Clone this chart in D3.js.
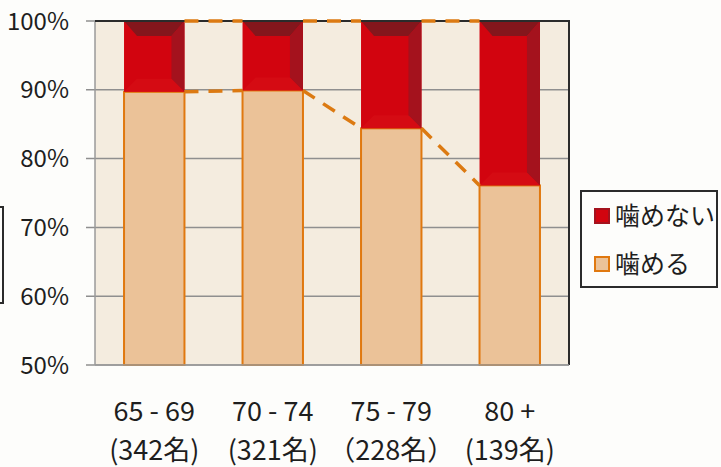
<!DOCTYPE html>
<html>
<head>
<meta charset="utf-8">
<script src="https://cdn.jsdelivr.net/npm/d3@7"></script>
<style>
    html, body { margin: 0; padding: 0; background: #fdfdfb; }
    svg { display: block; }
    text { font-family: "Noto Sans CJK JP", "Noto Sans", sans-serif; fill: #1e1e1e; }
</style>
</head>
<body>
<svg id="chart" width="721" height="467"></svg>
<script>
"use strict";

// age groups and respondent counts
const categories = ["65 - 69", "70 - 74", "75 - 79", "80 +"];
const counts = ["(342名)", "(321名)", "（228名）", "(139名)"];

// percent of respondents (stacked, bottom to top)
const canChew = [89.7, 89.9, 84.4, 76.1];     // 噛める
const cannotChew = [10.3, 10.1, 15.6, 23.9];  // 噛めない

const yTicks = [50, 60, 70, 80, 90, 100];
const legendLabels = ["噛めない", "噛める"];

const svg = d3.select("#chart");

const plot = { left: 95, right: 569, top: 21, bottom: 365 };

const x = d3.scaleBand()
    .domain(categories)
    .range([plot.left, plot.right])
    .paddingInner(0.49)
    .paddingOuter(0.245);

const y = d3.scaleLinear()
    .domain([50, 100])
    .range([plot.bottom, plot.top]);

const rows = categories.map((c, i) => ({
    cat: c,
    count: counts[i],
    low: canChew[i],
    high: canChew[i] + cannotChew[i]
}));

// plot background
svg.append("rect")
    .attr("x", plot.left)
    .attr("y", plot.top)
    .attr("width", plot.right - plot.left)
    .attr("height", plot.bottom - plot.top)
    .attr("fill", "#f4ecdf");

// gridlines
svg.append("g")
    .selectAll("line")
    .data(yTicks)
    .join("line")
    .attr("x1", plot.left - 9)
    .attr("x2", plot.right)
    .attr("y1", d => y(d))
    .attr("y2", d => y(d))
    .attr("stroke", "#8f8f8f")
    .attr("stroke-width", 1.5);

// left axis line
svg.append("line")
    .attr("x1", plot.left).attr("x2", plot.left)
    .attr("y1", plot.top).attr("y2", plot.bottom)
    .attr("stroke", "#9a9a9a")
    .attr("stroke-width", 1.5);

// y tick labels
svg.append("g")
    .selectAll("text")
    .data(yTicks)
    .join("text")
    .attr("x", 69)
    .attr("y", d => y(d))
    .attr("dy", "0.36em")
    .attr("text-anchor", "end")
    .style("font-size", "24px")
    .text(d => d + "%");

const bw = x.bandwidth();
const bevel = 13;

// 噛める (bottom segment)
svg.append("g")
    .selectAll("rect")
    .data(rows)
    .join("rect")
    .attr("x", d => x(d.cat))
    .attr("y", d => y(d.low))
    .attr("width", bw)
    .attr("height", d => y(50) - y(d.low))
    .attr("fill", "#ebc298")
    .attr("stroke", "#e0780f")
    .attr("stroke-width", 2);

// 噛めない (top segment, bevelled)
const reds = svg.append("g")
    .selectAll("g")
    .data(rows)
    .join("g")
    .attr("transform", d => `translate(${x(d.cat)},${y(d.high)})`);

reds.append("rect")
    .attr("width", bw)
    .attr("height", d => y(d.low) - y(d.high))
    .attr("fill", "#d2040f");

reds.append("path")
    .attr("d", `M0,0 L${bw},0 L${bw - bevel},${bevel + 2} L${bevel},${bevel + 2} Z`)
    .attr("fill", "#84161c");

reds.append("path")
    .attr("d", d => {
        const h = y(d.low) - y(d.high);
        return `M${bw},0 L${bw},${h} L${bw - bevel},${h - bevel} L${bw - bevel},${bevel + 2} Z`;
    })
    .attr("fill", "#a4121d");

reds.append("path")
    .attr("d", d => {
        const h = y(d.low) - y(d.high);
        return `M0,${h} L${bw},${h} L${bw - bevel},${h - bevel} L${bevel},${h - bevel} Z`;
    })
    .attr("fill", "#dc1a1c")
    .attr("opacity", 0.35);

// top and right frame
svg.append("path")
    .attr("d", `M${plot.left},${plot.top} L${plot.right},${plot.top} L${plot.right},${plot.bottom}`)
    .attr("fill", "none")
    .attr("stroke", "#2b2b2b")
    .attr("stroke-width", 2);

svg.append("line")
    .attr("x1", plot.left).attr("x2", plot.right)
    .attr("y1", plot.bottom).attr("y2", plot.bottom)
    .attr("stroke", "#9a9a9a")
    .attr("stroke-width", 1.5);

// series lines between bars
const pairs = d3.pairs(rows);
const seriesLines = pairs.flatMap(([a, b]) => [
    { x1: x(a.cat) + bw, x2: x(b.cat), y1: y(a.low), y2: y(b.low) },
    { x1: x(a.cat) + bw, x2: x(b.cat), y1: y(a.high), y2: y(b.high) }
]);

svg.append("g")
    .selectAll("line")
    .data(seriesLines)
    .join("line")
    .attr("x1", d => d.x1)
    .attr("x2", d => d.x2)
    .attr("y1", d => d.y1)
    .attr("y2", d => d.y2)
    .attr("stroke", "#dc7a12")
    .attr("stroke-width", 3.5)
    .attr("stroke-dasharray", "14,10");

// x labels
const xl = svg.append("g")
    .selectAll("g")
    .data(rows)
    .join("g")
    .attr("transform", d => `translate(${x(d.cat) + bw / 2},0)`);

xl.append("text")
    .attr("y", 421)
    .attr("text-anchor", "middle")
    .style("font-size", "27px")
    .text(d => d.cat);

xl.append("text")
    .attr("y", 460)
    .attr("text-anchor", "middle")
    .style("font-size", "27px")
    .text(d => d.count);

// legend
svg.append("rect")
    .attr("x", 581)
    .attr("y", 191)
    .attr("width", 136)
    .attr("height", 96)
    .attr("fill", "#fdfdfb")
    .attr("stroke", "#2b2b2b")
    .attr("stroke-width", 2);

const legend = svg.append("g")
    .selectAll("g")
    .data(legendLabels)
    .join("g")
    .attr("transform", (d, i) => `translate(595,${216 + i * 48})`);

legend.append("rect")
    .attr("y", -7)
    .attr("width", 14)
    .attr("height", 14)
    .attr("fill", (d, i) => i === 0 ? "#d2040f" : "#ebc298")
    .attr("stroke", (d, i) => i === 0 ? "#a4121d" : "#e0780f")
    .attr("stroke-width", 2);

legend.append("text")
    .attr("x", 20)
    .attr("dy", "0.36em")
    .style("font-size", "25px")
    .text(d => d);

// stray box at left edge
svg.append("rect")
    .attr("x", -20)
    .attr("y", 207)
    .attr("width", 23)
    .attr("height", 96)
    .attr("fill", "none")
    .attr("stroke", "#2b2b2b")
    .attr("stroke-width", 2);
</script>
</body>
</html>
